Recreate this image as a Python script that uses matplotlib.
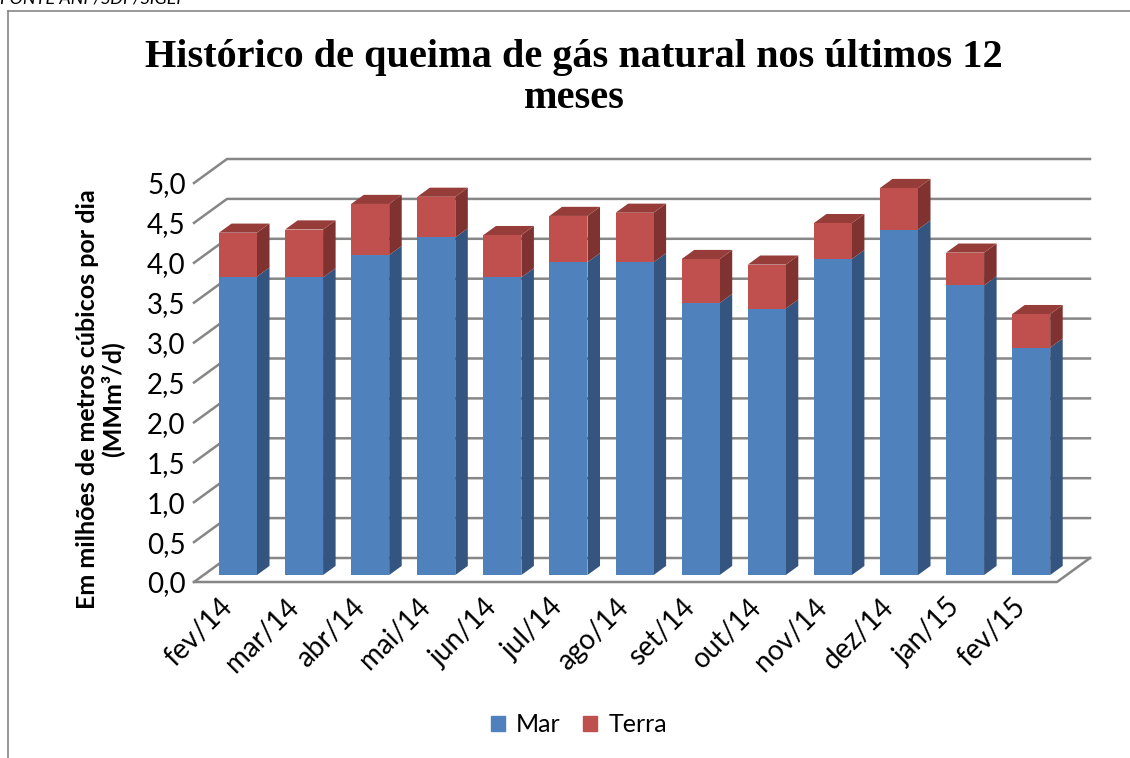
import numpy as np
import matplotlib.pyplot as plt
from matplotlib.patches import Polygon, Patch
from matplotlib.lines import Line2D

meses = ["fev/14", "mar/14", "abr/14", "mai/14", "jun/14", "jul/14", "ago/14",
         "set/14", "out/14", "nov/14", "dez/14", "jan/15", "fev/15"]
mar = [3.74, 3.73, 4.01, 4.23, 3.73, 3.92, 3.92, 3.41, 3.34, 3.96, 4.33, 3.63, 2.85]
terra = [0.55, 0.60, 0.64, 0.51, 0.53, 0.58, 0.62, 0.55, 0.55, 0.45, 0.52, 0.41, 0.42]
yticks = np.arange(0, 5.01, 0.5)

# colours (front, side, top)
azul = ("#4F81BD", "#34557F", "#3E6697")
verm = ("#C0504D", "#7F3230", "#963D3A")
cinza = "#868686"

plt.rcParams['font.family'] = ['Lato', 'DejaVu Sans']

W, H = 1130, 758
fig = plt.figure(figsize=(W / 100, H / 100), dpi=100)

# front plane of the plot area, in pixels
left, right, bottom, top = 194, 1100, 582, 140
px_x, px_y = 66.1, 79.8
x0 = 228.4
ax = fig.add_axes([left / W, 1 - bottom / H, (right - left) / W, (bottom - top) / H])
ax.set_xlim((left - x0) / px_x, (right - x0) / px_x)
ax.set_ylim(0, (bottom - top) / px_y)

# fake 3d depth
DX, DY = 33 / px_x, 24 / px_y
d0, d1 = 0.29, 0.67
bw = 38 / px_x
floor_l = ax.get_xlim()[0]
floor_r = (1057 - x0) / px_x

for v in yticks:
    ax.plot([floor_l, floor_l + DX, floor_r + DX], [v, v + DY, v + DY],
            color=cinza, lw=1.8, zorder=1, clip_on=False)
ax.plot([floor_l, floor_r, floor_r + DX], [0, 0, DY], color=cinza, lw=1.8,
        zorder=1, clip_on=False)

x = np.arange(len(meses))
mar = np.array(mar)
terra = np.array(terra)


def barra3d(xc, b, t, cores, tampa):
    xl, xr = xc - bw / 2, xc + bw / 2
    lado = [(xr + d0 * DX, b + d0 * DY), (xr + d1 * DX, b + d1 * DY),
            (xr + d1 * DX, t + d1 * DY), (xr + d0 * DX, t + d0 * DY)]
    ax.add_patch(Polygon(lado, closed=True, facecolor=cores[1], edgecolor='none', zorder=3))
    if tampa:
        cima = [(xl + d0 * DX, t + d0 * DY), (xr + d0 * DX, t + d0 * DY),
                (xr + d1 * DX, t + d1 * DY), (xl + d1 * DX, t + d1 * DY)]
        ax.add_patch(Polygon(cima, closed=True, facecolor=cores[2], edgecolor='none', zorder=3))


for i in x:
    barra3d(i, 0, mar[i], azul, False)
    barra3d(i, mar[i], mar[i] + terra[i], verm, True)

ax.bar(x + d0 * DX, mar, bottom=d0 * DY, width=bw, color=azul[0], zorder=4)
ax.bar(x + d0 * DX, terra, bottom=mar + d0 * DY, width=bw, color=verm[0], zorder=4)

for s in ax.spines.values():
    s.set_visible(False)
ax.set_yticks(yticks)
ax.set_yticklabels([f"{v:.1f}".replace(".", ",") for v in yticks], fontsize=20)
ax.set_xticks(x)
ax.set_xticklabels(meses, fontsize=20, rotation=45, ha='right', va='center',
                   rotation_mode='anchor')
ax.tick_params(axis='both', length=0)
ax.tick_params(axis='y', pad=6)
ax.tick_params(axis='x', pad=15)

fig.text(574 / W, 1 - 78 / H, "Histórico de queima de gás natural nos últimos 12\nmeses",
         ha='center', va='center', fontsize=29, fontweight='bold',
         family='Liberation Serif', linespacing=1.15)
fig.text(100 / W, 1 - 399 / H, "Em milhões de metros cúbicos por dia\n(MMm³/d)",
         ha='center', va='center', rotation=90, fontsize=18, fontweight='bold',
         multialignment='center', linespacing=1.1)
fig.text(0.0, 1 - 3 / H, "FONTE ANP/SDP/SIGEP", ha='left', va='baseline',
         fontsize=13, style='italic')

fig.add_artist(Line2D([7.5 / W, 1], [1 - 10.5 / H, 1 - 10.5 / H], color=cinza, lw=1.2))
fig.add_artist(Line2D([7.5 / W, 7.5 / W], [0, 1 - 10.5 / H], color=cinza, lw=1.2))

fig.legend(handles=[Patch(color=azul[0], label="Mar"), Patch(color=verm[0], label="Terra")],
           loc='center', bbox_to_anchor=(579 / W, 1 - 725 / H), ncol=2, frameon=False,
           fontsize=18, handlelength=0.55, handleheight=0.55, handletextpad=0.45,
           columnspacing=0.9)

fig.savefig("out.png", dpi=100)
